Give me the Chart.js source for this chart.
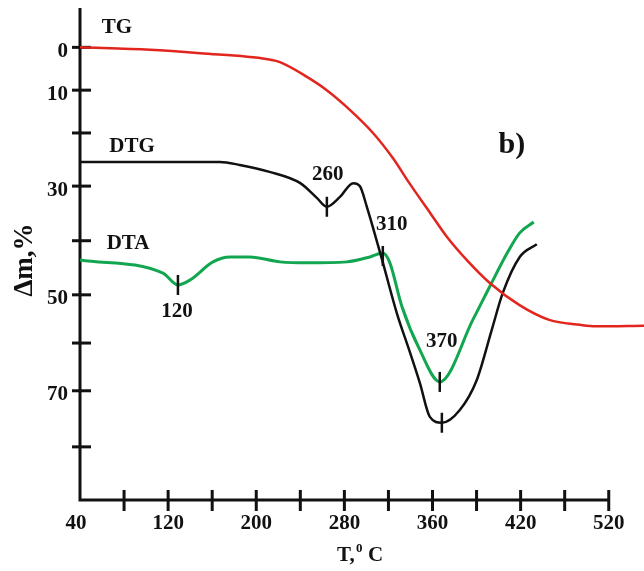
<!DOCTYPE html>
<html>
<head>
<meta charset="utf-8">
<script src="https://cdn.jsdelivr.net/npm/chart.js@4/dist/chart.umd.min.js"></script>
<style>
  body { margin: 0; background: #fff; }
  canvas { display: block; }
</style>
</head>
<body>
<canvas id="chart" width="644" height="571"></canvas>
<script>
// temperature (deg C) and mass change values
const tgT = [40, 103.5, 149, 210, 221.5, 246, 264, 282, 306, 324, 339, 358, 373, 391, 412, 439, 466, 494, 508, 552];
const tgM = [0, 0.5, 1.2, 2.4, 3, 6, 8.7, 12.1, 17.4, 22.5, 27.6, 33.7, 38.5, 43.2, 47.9, 52.4, 55.4, 56.4, 56.7, 56.6];

const dtgT = [40, 103.5, 167, 185, 212, 240, 255, 264, 276, 288, 294, 300.4, 315, 327.6, 339.4, 348.5, 357.6, 368.5, 384.8, 400.2, 413.8, 423.8, 439.2, 454.7];
const dtgM = [23.3, 23.3, 23.3, 23.9, 25.3, 27.6, 30.6, 32.4, 30.4, 27.6, 28.2, 32.4, 43.8, 54, 61.9, 68.2, 75.1, 76.3, 73.7, 67.6, 57.4, 49.9, 42.6, 40];

const dtaT = [40, 115.3, 128.9, 139.8, 160.7, 176.1, 194.2, 221.5, 246, 282.3, 303.1, 314.9, 321.3, 332, 348.5, 366.6, 396.6, 412, 428.3, 439.2, 451.9];
const dtaM = [43.2, 45.9, 48.3, 47.3, 43.6, 42.6, 42.6, 43.6, 43.8, 43.6, 42.6, 41.8, 43.8, 52.5, 61.5, 68, 55.4, 48.6, 41.6, 37.7, 35.5];

// peak marks: temperature and curve value
const peakT = [128.9, 264.1, 314.9, 366.6, 368.5];
const peakM = [48.3, 32.4, 42.4, 68, 76.3];
const peakLabels = ["120", "260", "310", "370"];
const peakLabelT = [128, 265, 323, 368.5];
const peakLabelM = [53.8, 25.9, 36.1, 59.7];

const xTicks = [40, 80, 120, 160, 200, 240, 280, 320, 360, 400, 440, 480, 520];
const xTickLabels = ["40", "", "120", "", "200", "", "280", "", "360", "", "420", "", "520"];
const yTicks = [0, 8.7, 17.4, 28.2, 39.3, 50.3, 60.1, 69.8, 81.2];
const yTickLabels = ["0", "10", "", "30", "", "50", "", "70", ""];

function pts(xs, ys) {
  return xs.map(function(x, i) { return { x: x, y: ys[i] }; });
}

const FONT = "bold 21px 'Liberation Serif', 'DejaVu Serif', serif";

const axesPlugin = {
  id: "axes",
  beforeDatasetsDraw(chart) {
    const ctx = chart.ctx;
    const xs = chart.scales.x, ys = chart.scales.y;
    const x0 = xs.getPixelForValue(40);
    const y0 = ys.getPixelForValue(92);
    const yTop = ys.getPixelForValue(-8);
    const xEnd = xs.getPixelForValue(520);
    ctx.save();
    ctx.strokeStyle = "#111";
    ctx.lineWidth = 3;
    ctx.beginPath();
    ctx.moveTo(x0, yTop);
    ctx.lineTo(x0, y0);
    ctx.lineTo(xEnd, y0);
    ctx.stroke();

    ctx.fillStyle = "#111";
    ctx.font = FONT;
    ctx.textAlign = "right";
    ctx.textBaseline = "middle";
    yTicks.forEach(function(v, i) {
      const py = ys.getPixelForValue(v);
      ctx.beginPath();
      ctx.moveTo(x0 - 8, py);
      ctx.lineTo(x0 + 11, py);
      ctx.stroke();
      if (yTickLabels[i]) ctx.fillText(yTickLabels[i], x0 - 12, py + 4);
    });

    ctx.textAlign = "center";
    xTicks.forEach(function(v, i) {
      const px = xs.getPixelForValue(v);
      if (i > 0) {
        ctx.beginPath();
        ctx.moveTo(px, y0 - 10);
        ctx.lineTo(px, y0 + 11);
        ctx.stroke();
      }
      if (xTickLabels[i]) ctx.fillText(xTickLabels[i], i === 0 ? px - 4 : px, y0 + 24);
    });

    // axis titles
    const cx = 360, cy = 556;
    ctx.textAlign = "left";
    ctx.fillText("T,", cx - 23, cy);
    ctx.font = "bold 13px 'Liberation Serif', serif";
    ctx.fillText("0", cx - 4, cy - 7);
    ctx.font = FONT;
    ctx.fillText("C", cx + 8, cy);

    ctx.translate(25, 260);
    ctx.rotate(-Math.PI / 2);
    ctx.textAlign = "center";
    ctx.font = "bold 27px 'Liberation Serif', serif";
    ctx.fillText("\u0394m,%", 0, 0);
    ctx.restore();
  },
  afterDatasetsDraw(chart) {
    const ctx = chart.ctx;
    const xs = chart.scales.x, ys = chart.scales.y;
    ctx.save();
    ctx.strokeStyle = "#111";
    ctx.fillStyle = "#111";
    ctx.lineWidth = 2.5;
    peakT.forEach(function(t, i) {
      const px = xs.getPixelForValue(t), py = ys.getPixelForValue(peakM[i]);
      ctx.beginPath();
      ctx.moveTo(px, py - 10);
      ctx.lineTo(px, py + 10);
      ctx.stroke();
    });
    ctx.font = FONT;
    ctx.textAlign = "center";
    ctx.textBaseline = "middle";
    peakLabels.forEach(function(s, i) {
      ctx.fillText(s, xs.getPixelForValue(peakLabelT[i]), ys.getPixelForValue(peakLabelM[i]));
    });
    ctx.fillText("TG", xs.getPixelForValue(73.6), ys.getPixelForValue(-4.1));
    ctx.fillText("DTG", xs.getPixelForValue(87.2), ys.getPixelForValue(20.2));
    ctx.fillText("DTA", xs.getPixelForValue(83.6), ys.getPixelForValue(39.8));
    ctx.font = "bold 30px 'Liberation Serif', serif";
    ctx.fillText("b)", xs.getPixelForValue(432), ys.getPixelForValue(19.8));
    ctx.restore();
  }
};

new Chart(document.getElementById("chart"), {
  type: "line",
  data: {
    datasets: [{
      label: "TG",
      data: pts(tgT, tgM),
      borderColor: "#e2251d",
      borderWidth: 2.5
    }, {
      label: "DTG",
      data: pts(dtgT, dtgM),
      borderColor: "#111111",
      borderWidth: 2.5
    }, {
      label: "DTA",
      data: pts(dtaT, dtaM),
      borderColor: "#12a650",
      borderWidth: 3
    }]
  },
  options: {
    responsive: false,
    animation: false,
    devicePixelRatio: 1,
    layout: { padding: { left: 80, right: 0, top: 8, bottom: 71 } },
    elements: {
      point: { radius: 0 },
      line: { cubicInterpolationMode: "monotone", fill: false }
    },
    plugins: {
      legend: { display: false },
      tooltip: { enabled: false }
    },
    scales: {
      x: { type: "linear", min: 40, max: 552, display: false },
      y: { type: "linear", min: -8, max: 92, reverse: true, display: false }
    }
  },
  plugins: [axesPlugin]
});
</script>
</body>
</html>
